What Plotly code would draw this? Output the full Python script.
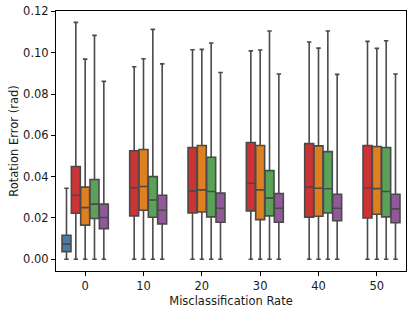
import plotly.graph_objects as go

categories = ["0", "10", "20", "30", "40", "50"]
methods = ["A", "B", "C", "D", "E"]
colors = ["#477ca8", "#cb3335", "#df7f20", "#59a257", "#905998"]

# per-method stats for each category (None where absent)
q1 = {
    "A": [0.0037, None, None, None, None, None],
    "B": [0.0223, 0.0210, 0.0224, 0.0234, 0.0204, 0.0200],
    "C": [0.0165, 0.0237, 0.0229, 0.0192, 0.0208, 0.0218],
    "D": [0.0197, 0.0203, 0.0205, 0.0210, 0.0224, 0.0205],
    "E": [0.0148, 0.0171, 0.0179, 0.0179, 0.0186, 0.0177],
}
median = {
    "A": [0.0073, None, None, None, None, None],
    "B": [0.0310, 0.0346, 0.0331, 0.0368, 0.0349, 0.0346],
    "C": [0.0250, 0.0352, 0.0336, 0.0336, 0.0344, 0.0342],
    "D": [0.0267, 0.0287, 0.0328, 0.0296, 0.0341, 0.0328],
    "E": [0.0202, 0.0237, 0.0247, 0.0247, 0.0247, 0.0244],
}
q3 = {
    "A": [0.0116, None, None, None, None, None],
    "B": [0.0449, 0.0525, 0.0541, 0.0565, 0.0560, 0.0551],
    "C": [0.0349, 0.0531, 0.0551, 0.0551, 0.0549, 0.0546],
    "D": [0.0386, 0.0400, 0.0494, 0.0429, 0.0521, 0.0541],
    "E": [0.0267, 0.0310, 0.0320, 0.0318, 0.0315, 0.0315],
}
upper = {
    "A": [0.0344, None, None, None, None, None],
    "B": [0.1147, 0.0932, 0.1014, 0.1009, 0.1052, 0.1055],
    "C": [0.0969, 0.0971, 0.1016, 0.1013, 0.1022, 0.1021],
    "D": [0.1084, 0.1113, 0.1047, 0.1105, 0.1105, 0.1058],
    "E": [0.0861, 0.0946, 0.0904, 0.0897, 0.0895, 0.0897],
}
lower = {
    "A": [0.0, None, None, None, None, None],
    "B": [0.0, 0.0, 0.0, 0.0, 0.0, 0.0],
    "C": [0.0, 0.0, 0.0, 0.0, 0.0, 0.0],
    "D": [0.0, 0.0, 0.0, 0.0, 0.0, 0.0],
    "E": [0.0, 0.0, 0.0, 0.0, 0.0, 0.0],
}

y_ticks = [0.00, 0.02, 0.04, 0.06, 0.08, 0.10, 0.12]

line_color = "#4a4a4a"
fig = go.Figure()
for m, c in zip(methods, colors):
    xs, a, b, cc, d, e = [], [], [], [], [], []
    for i, cat in enumerate(categories):
        if median[m][i] is None:
            continue
        xs.append(cat)
        a.append(lower[m][i]); b.append(q1[m][i]); cc.append(median[m][i])
        d.append(q3[m][i]); e.append(upper[m][i])
    fig.add_trace(go.Box(
        x=xs, lowerfence=a, q1=b, median=cc, q3=d, upperfence=e,
        name=m, fillcolor=c, line=dict(color=line_color, width=1.6),
        whiskerwidth=0.5, boxpoints=False, showlegend=False,
    ))

font = "DejaVu Sans, sans-serif"
fig.update_layout(
    width=416, height=312,
    margin=dict(l=56, r=10, t=11, b=41, autoexpand=False),
    paper_bgcolor="white", plot_bgcolor="white",
    boxmode="group", boxgap=0.2, boxgroupgap=0.04,
    font=dict(family=font, size=11.5, color="#1a1a1a"),
)
fig.update_xaxes(
    type="category", categoryorder="array", categoryarray=categories,
    range=[-0.5, 5.5], automargin=False,
    title=dict(text="Misclassification Rate", font=dict(size=11.5), standoff=5),
    showline=True, linecolor="black", linewidth=1, mirror=True,
    ticks="outside", ticklen=4, tickcolor="black", showgrid=False, zeroline=False,
    tickfont=dict(size=11.5),
)
fig.update_yaxes(
    range=[-0.0057, 0.1202], tickvals=y_ticks, tickformat=".2f", automargin=False,
    title=dict(text="Rotation Error (rad)", font=dict(size=11.5), standoff=2),
    showline=True, linecolor="black", linewidth=1, mirror=True,
    ticks="outside", ticklen=4, tickcolor="black", showgrid=False, zeroline=False,
    tickfont=dict(size=11.5),
)
fig.write_html("out.html", config={"displayModeBar": False},
               post_script="document.body.style.margin='0';")
